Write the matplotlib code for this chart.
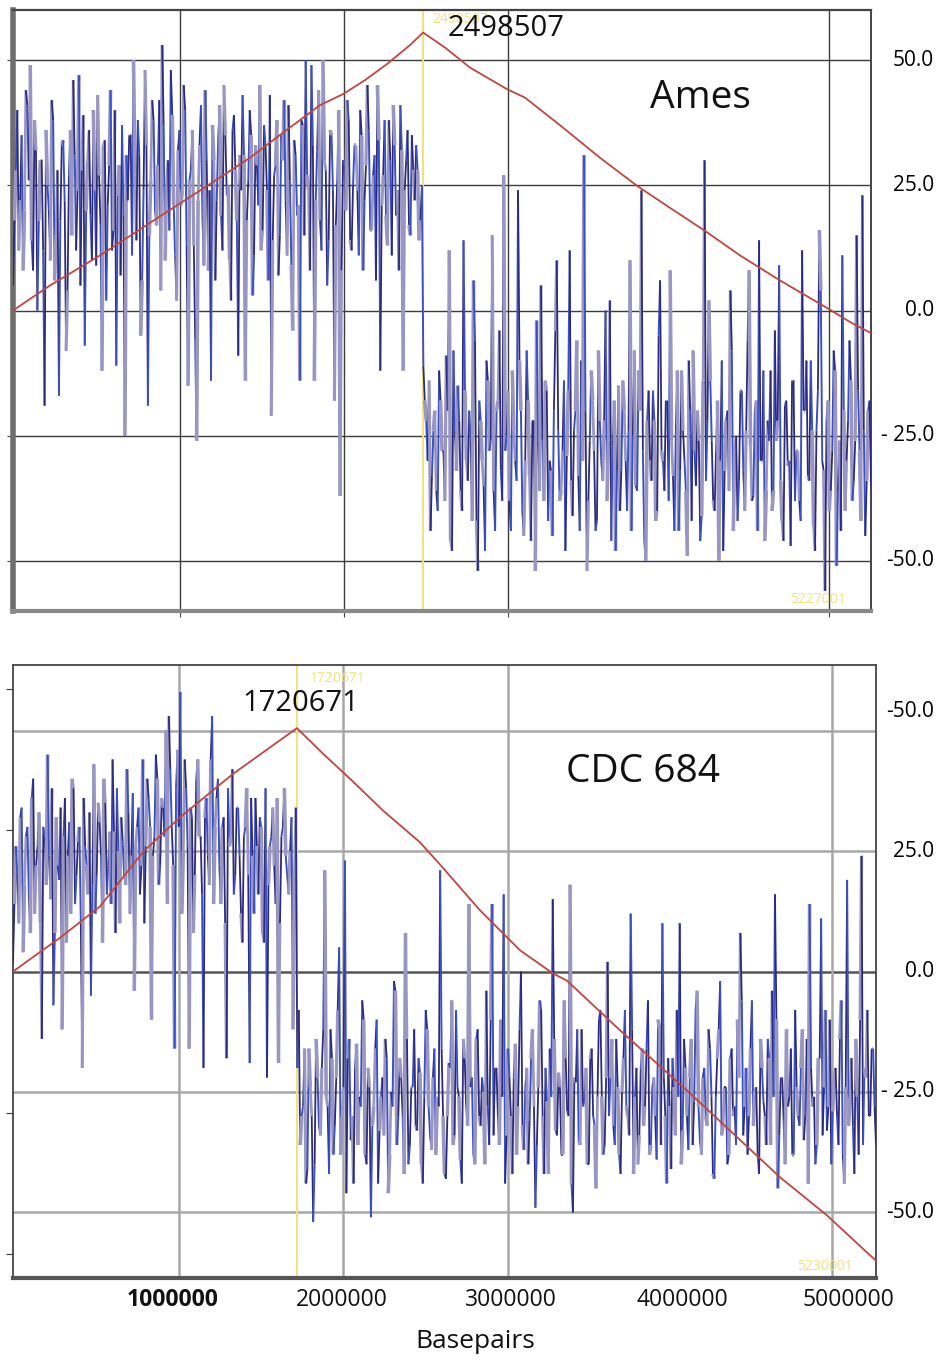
import numpy as np
import matplotlib
matplotlib.use("Agg")
import matplotlib.pyplot as plt
from matplotlib.collections import LineCollection
from matplotlib.transforms import blended_transform_factory

plt.rcParams['font.family'] = ['Open Sans', 'DejaVu Sans']

# ---- Ames (top panel) ----
ames_len = 5227001
ames_origin = 2498507
# skew windows (a) and the windows in between them (b)
ames_skew_a = [
    5, 28, 12, 35, 20, 41, 49, 8, 32, 18,
    30, -19, 25, 10, 38, 15, -17, 33, 22, 4,
    36, 46, 12, 47, 28, -7, 30, 19, 40, 9,
    27, -12, 34, 21, 44, 16, -11, 29, 37, -25,
    22, 35, 50, 14, 31, 6, 48, -19, 26, 38,
    17, 42, 53, 10, 30, 48, 21, 2, 36, 24,
    40, -15, 28, 13, -26, 33, 19, 44, 8, -14,
    30, 22, 41, 12, 35, 25, 2, 39, 18, 31,
    43, -14, 26, 35, 11, 29, 45, 16, 33, 6,
    -21, 27, 38, 15, 30, 22, 41, 9, 34, 19,
    -14, 37, 50, 24, 49, -14, 32, 18, 50, 28,
    14, 35, -18, 26, -37, 30, 20, 38, 12, 33,
    24, 40, 8, 29, 36, 16, 31, 45, -12, 27,
    19, 38, 11, 33, 24, 41, -12, 30, 17, 35,
    22, 28, 18,
    -11, -22, -14, -33, -20, -40, -18, -28, -9, 12,
    -48, -24, -15, -36, 14, -30, -20, -42, -6, -52,
    -22, -35, -10, -28, 15, -44, -18, -32, 27, -25,
    -38, -12, -30, 24, -20, -45, -8, -33, -22, -52,
    -26, 5, -38, -16, -30, -45, -4, -24, -36, -14,
    -29, 12, -41, -20, -33, -10, 31, -52, -26, -18,
    -44, -8, -30, -22, -38, 2, -27, -48, -15, -32,
    -20, -40, 10, -25, -35, -12, 24, -46, -22, -30,
    -16, -42, -5, -28, -36, -18, 8, -33, -24, -44,
    -12, -30, -49, -20, -8, -35, -26, -41, 30, -22,
    -14, -38, -28, -50, -10, -32, -20, 4, -44, -25,
    -34, -16, -40, -6, -27, -37, -18, 14, -30, -46,
    -22, -12, -36, -26, 9, -42, -19, -31, -47, -14,
    -28, -38, 12, -20, -33, -10, -43, -24, 16, -30,
    -56, -18, -36, -8, -51, -26, 11, -40, -22, -14,
    -34, 15, -28, 23, -45, -20, -35,
]
ames_skew_b = [
    18, 40, 22, 8, 44, 26, 14, 38, 0, 30,
    12, 36, 20, 42, 6, 28, 18, 34, -8, 27,
    15, 31, 24, 5, 39, 20, 36, 10, 24, 43,
    17, 33, 2, 29, 12, 40, 23, 7, 19, 31,
    35, 11, 27, 38, -5, 24, 33, 15, 42, 20,
    29, 4, 37, 25, 16, 39, 11, 32, 21, 45,
    13, 26, 36, -6, 22, 41, 9, 30, 24, 37,
    6, 34, 19, 45, 23, 10, 36, 28, -9, 24,
    31, 18, 40, 3, 33, 21, 12, 37, 24, 43,
    14, 29, 7, 35, 42, 11, 26, -4, 31, 21,
    38, 15, 27, 8, 33, 22, 44, 12, 30, 5,
    36, 24, 17, 40, 8, 29, 42, 14, 25, 33,
    11, 35, 22, 45, 16, 27, 6, 34, 21, 38,
    13, 30, 41, 19, 8, 32, 24, 36, 15, 28,
    33, 14, 25,
    -18, -30, -44, -24, -36, -12, -28, -38, -20, -46,
    -8, -32, -22, -40, -16, -34, -26, 6, -42, -18,
    -30, -48, -14, -26, -36, -20, -4, -38, -28, -16,
    -44, -24, -34, -10, -40, -30, -18, -46, -22, -2,
    -36, -26, -14, -42, -32, -20, 10, -38, -28, -48,
    -16, -34, -24, -6, -44, -30, -20, -38, -12, -28,
    -42, -22, -34, 0, -26, -46, -18, -32, -40, -14,
    -30, -24, -44, -8, -36, -20, -28, -50, -16, -34,
    -22, -40, 6, -30, -18, -38, -26, -44, -12, -32,
    -24, -36, -10, -42, -28, -20, -46, -14, -34, 2,
    -26, -40, -18, -30, -48, -22, -36, -8, -28, -42,
    -16, -32, -24, 8, -38, -20, -44, -30, -12, -36,
    -26, -40, -4, -22, -34, -46, -18, -30, -14, -38,
    -28, -42, -20, -10, -34, -24, -48, -16, 4, -32,
    -22, -40, -28, -12, -36, -44, -20, -30, -6, -38,
    -26, -16, -42, -24, -34, -18,
]
ames_cum_bp = [0, 225400, 530000, 834600, 1188000, 1443800, 1644800, 1870300,
               2010400, 2144400, 2278400, 2418500, 2498507, 2631700, 2784000,
               3009400, 3119100, 3332300, 3576000, 3801400, 4002400, 4215700,
               4428900, 4672600, 4965000, 5099000, 5208700, 5227001]
ames_cum = [0, 5, 11, 17.5, 25, 30.5, 35.5, 41, 43.2, 46, 49.2, 53, 55.5, 52.5,
            48.5, 44.2, 42.5, 37, 30.5, 24.9, 20.5, 15.9, 11, 6, 0.4, -2.3,
            -4.2, -4.5]

# ---- CDC 684 (bottom panel) ----
cdc_len = 5230001
cdc_origin = 1720671
cdc_skew_a = [
    2, 26, 10, 34, 18, 30, 8, 40, 22, 33,
    -14, 28, 45, 15, -7, 32, 19, -12, 36, 24,
    12, 38, 20, 30, -20, 26, 16, -5, 43, 20,
    31, 6, 35, 22, 14, 29, 38, 10, 27, 18,
    33, 24, -4, 30, 16, 44, 26, 36, -10, 28,
    40, 22, 34, 50, 53, 30, -16, 46, 58, 25,
    38, -16, 32, 20, 44, 28, -20, 36, 18, 53,
    30, 40, 14, 32, -18, 26, 42, 20, 34, 12,
    28, 38, -19, 24, 36, 16, 30, 6, -22, 26,
    34, 14, -19, 28, 38, 20, 25, -12, 34,
    -8, -30, -16, -41, -24, -52, -14, -32, -20, 21,
    -28, -12, -38, -22, 5, -30, 23, -18, -35, -44,
    -15, -26, -6, -38, -20, -51, -28, -10, -33, -22,
    -14, -46, -25, -2, -36, -18, -30, 8, -40, -24,
    -12, -33, -21, -44, -8, -28, -37, -16, -26, 21,
    -30, -43, -19, -6, -34, -24, -39, -14, -28, 14,
    -22, -40, -12, -32, -25, -4, -36, 14, -20, -30,
    -10, 16, -34, -22, -42, -15, -28, 0, -37, -20,
    -31, -12, -49, -24, -8, -42, -27, -16, 15, -33,
    -21, -38, -6, -29, 18, -50, -23, -35, -12, -27,
    -40, -18, -30, -45, -10, -26, -36, 2, -22, -32,
    -14, -38, -25, -8, -30, 12, -42, -20, -34, -16,
    -28, -6, -36, -22, -39, -12, 10, -30, -18, -41,
    -24, -8, 10, -33, -20, -37, -14, -27, -4, -35,
    -22, -30, -12, -26, -43, -18, -2, -32, -24, -38,
    -16, -28, -10, 8, -34, -20, -30, -6, -25, -38,
    -14, -27, -36, -18, -4, 16, -45, -22, -31, -12,
    -26, -38, -8, -30, -20, -35, -14, 14, -28, -40,
    -18, 11, -24, -33, -10, -29, -20, -36, -6, -44,
    19, -26, -32, -14, -38, 24, -20, -8, -30, -16,
    -36,
]
cdc_skew_b = [
    14, 20, 32, 4, 28, 16, 36, 12, 26, 10,
    30, 18, 24, 38, 8, 22, 34, 28, 6, 31,
    40, 14, 27, 10, 36, 22, 33, 18, 12, 35,
    24, 40, 16, 29, 44, 8, 25, 32, 20, 42,
    12, 37, 26, 34, 22, 10, 40, 30, 24, 45,
    18, 36, 28, 14, 42, 22, 38, 30, 12, 44,
    26, 34, 8, 40, 28, 16, 32, 24, 44, 14,
    36, 22, 30, 10, 38, 28, 16, 34, 24, 6,
    30, 20, 36, 12, 26, 32, 8, 38, 18, 28,
    22, 36, 10, 30, 24, 16, 32, 20,
    -20, -36, -28, -44, -16, -30, -40, -22, -34, -12,
    -26, -42, -18, -32, -8, -38, -24, -46, -14, -30,
    -20, -36, -28, -10, -40, -24, -32, -16, -44, -26,
    -34, -18, -38, -28, -4, -30, -22, -42, -14, -36,
    -24, -32, -18, -40, -26, -12, -34, -22, -38, -28,
    -16, -42, -30, -20, -36, -8, -26, -44, -18, -32,
    -24, -38, -14, -30, -22, -40, -28, -10, -34, -20,
    -36, -26, -44, -16, -30, -22, -38, -12, -32, -24,
    -40, -18, -28, -36, -6, -30, -20, -42, -26, -14,
    -34, -24, -38, -18, -30, -44, -22, -12, -36, -28,
    -20, -40, -16, -32, -26, -8, -38, -22, -30, -14,
    -36, -24, -42, -18, -28, -34, -12, -26, -40, -20,
    -32, -16, -38, -24, -30, -10, -36, -22, -44, -28,
    -18, -34, -26, -40, -14, -30, -22, -36, -8, -28,
    -38, -20, -32, -16, -42, -26, -12, -34, -24, -40,
    -18, -30, -36, -22, -6, -28, -38, -16, -32, -24,
    -42, -20, -30, -14, -36, -26, -10, -34, -22, -40,
    -28, -16, -38, -24, -32, -12, -30, -44, -20, -26,
    -36, -18, -34, -8, -28, -40, -22, -30, -14, -38,
    -24, -32, -18, -42, -26, -10, -36, -22, -30, -16,
    -28,
]
cdc_cum_bp = [0, 284800, 527200, 787800, 1012100, 1333200, 1557500, 1720671,
              1878700, 2042300, 2242300, 2466500, 2587700, 2830100, 3072500,
              3272500, 3357400, 3678500, 4084600, 4345200, 4648200, 4933000,
              5181500, 5230001]
cdc_cum = [0, 7, 13.5, 24.8, 32, 41, 46.5, 50.5, 45.2, 40, 33.4, 26.8, 22.2,
           12.7, 4.4, -0.4, -1.9, -12.2, -24.7, -33, -42.7, -50.6, -58.5, -60]

ames_labels = ["50.0", "25.0", "0.0", "- 25.0", "-50.0"]
ames_label_y = [50, 25, 0, -25, -50]
cdc_labels = ["-50.0", "25.0", "0.0", "- 25.0", "-50.0"]
cdc_label_y = [54, 25, 0, -25, -50]

xtick_text = ["1000000", "2000000", "3000000", "4000000", "5000000"]

NAVY = '#2c2a7c'
BLUE = '#3b50c4'
LAV = '#9996c2'
YELLOW = '#f2e27a'
RED = '#c0463f'
color_cycle = [NAVY, LAV, BLUE, NAVY, LAV, NAVY, BLUE, LAV, LAV, NAVY, BLUE]
width_cycle = [1.3, 2.6, 1.4, 1.3, 2.3, 1.3, 1.4, 2.6, 2.0, 1.3, 1.4]

W, H = 949, 1360
fig = plt.figure(figsize=(W / 100, H / 100), dpi=100)


def px_axes(left, top, right, bottom):
    return fig.add_axes([left / W, 1 - bottom / H, (right - left) / W, (bottom - top) / H])


def interleave(a, b):
    out = []
    for i, v in enumerate(a):
        out.append(v)
        if i < len(b):
            out.append(b[i])
    return out


def draw_skew(ax, length, values):
    x = np.linspace(0, length, len(values))
    y = np.array(values, dtype=float)
    pts = np.column_stack([x, y])
    segs = np.stack([pts[:-1], pts[1:]], axis=1)
    n = len(segs)
    cols = [color_cycle[i % len(color_cycle)] for i in range(n)]
    lws = [width_cycle[i % len(width_cycle)] for i in range(n)]
    lc = LineCollection(segs, colors=cols, linewidths=lws, zorder=3)
    ax.add_collection(lc)


# ---------- top panel ----------
ax1 = px_axes(13, 10, 871, 611)
ax1.set_xlim(0, ames_len)
ax1.set_ylim(-60, 60)
for v in [50, 25, 0, -25, -50]:
    ax1.axhline(v, color='#3c3c3c', lw=1.0, zorder=1)
for v in [1017400, 2016500, 3015500, 4971100]:
    ax1.axvline(v, color='#3c3c3c', lw=1.0, zorder=1)
ax1.axvline(ames_origin, color=YELLOW, lw=1.4, zorder=2)
draw_skew(ax1, ames_len, interleave(ames_skew_a, ames_skew_b))
ax1.plot(ames_cum_bp, ames_cum, color=RED, lw=1.3, zorder=4)
ax1.set_xticks([1017400, 2016500, 3015500, 4971100])
ax1.set_xticklabels([])
ax1.set_yticks([50, 25, -25, -50])
ax1.set_yticklabels([])
ax1.tick_params(axis='both', direction='out', length=4, color='#444', right=False)
ax1.spines['left'].set_linewidth(4)
ax1.spines['left'].set_color('#6e6e6e')
ax1.spines['bottom'].set_linewidth(3)
ax1.spines['bottom'].set_color('#8a8a8a')
ax1.spines['top'].set_linewidth(1.6)
ax1.spines['top'].set_color('#444')
ax1.spines['right'].set_linewidth(1.4)
ax1.spines['right'].set_color('#444')
tr1 = blended_transform_factory(ax1.transAxes, ax1.transData)
for lab, yv in zip(ames_labels, ames_label_y):
    ax1.text(1.0734, yv, lab, transform=tr1, ha='right', va='center', fontsize=15, clip_on=False)
ax1.text(2552500, 58.2, "2498507", color=YELLOW, fontsize=10, ha='left', va='center')
ax1.text(4733500, -57.8, "5227001", color=YELLOW, fontsize=10, ha='left', va='center')
ax1.text(2650000, 56.4, "2498507", color='#111', fontsize=21, ha='left', va='center', zorder=6)
ax1.text(3880600, 42.4, "Ames", color='#111', fontsize=28, ha='left', va='center', zorder=6)

# ---------- bottom panel ----------
ax2 = px_axes(13, 665, 876, 1278)
ax2.set_xlim(0, cdc_len)
ax2.set_ylim(-63.6, 63.6)
for v in [50, 25, -25, -50]:
    ax2.axhline(v, color='#a8a8a8', lw=1.8, zorder=1)
ax2.axhline(0, color='#555555', lw=1.8, zorder=1)
for v in [1006000, 1999900, 3000000, 4963300]:
    ax2.axvline(v, color='#a8a8a8', lw=1.8, zorder=1)
ax2.axvline(cdc_origin, color=YELLOW, lw=1.4, zorder=2)
draw_skew(ax2, cdc_len, interleave(cdc_skew_a, cdc_skew_b))
ax2.plot(cdc_cum_bp, cdc_cum, color=RED, lw=1.3, zorder=4)
ax2.set_xticks([])
ax2.set_yticks([58.6, 29.3, -29.3, -58.6])
ax2.set_yticklabels([])
ax2.tick_params(axis='y', direction='out', length=5, color='#333')
for s in ['left', 'top', 'right']:
    ax2.spines[s].set_linewidth(1.3)
    ax2.spines[s].set_color('#444')
ax2.spines['bottom'].set_linewidth(3)
ax2.spines['bottom'].set_color('#555')
tr2 = blended_transform_factory(ax2.transAxes, ax2.transData)
for lab, yv in zip(cdc_labels, cdc_label_y):
    ax2.text(1.0672, yv, lab, transform=tr2, ha='right', va='center', fontsize=15, clip_on=False)
ax2.text(1800000, 60.8, "1720671", color=YELLOW, fontsize=10, ha='left', va='center')
ax2.text(4751000, -61.2, "5230001", color=YELLOW, fontsize=10, ha='left', va='center')
ax2.text(1387800, 55.6, "1720671", color='#111', fontsize=21, ha='left', va='center', zorder=6)
ax2.text(3351200, 41.3, "CDC 684", color='#111', fontsize=28, ha='left', va='center', zorder=6)

# x labels below (placed as in the original figure)
for lab, cx in zip(xtick_text, [173, 342, 511, 682, 848]):
    fig.text(cx / W, 1 - 1300 / H, lab, ha='center', va='center', fontsize=16.5,
             fontweight='bold' if lab == "1000000" else 'normal', color='#111')
fig.text(475 / W, 1 - 1341 / H, "Basepairs", ha='center', va='center', fontsize=19, color='#111')

fig.savefig("out.png", dpi=100, facecolor='white')
